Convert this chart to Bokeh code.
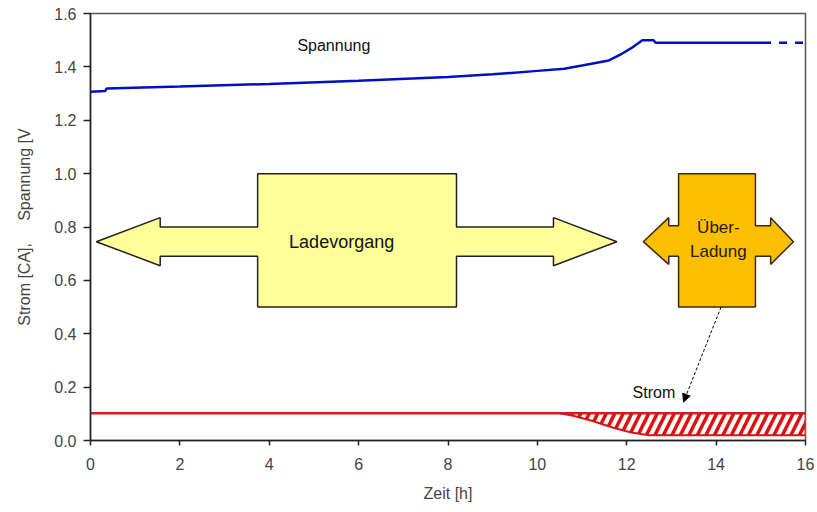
from bokeh.plotting import figure
from bokeh.models import FixedTicker, NumeralTickFormatter, Arrow, NormalHead
from bokeh.embed import file_html
from bokeh.resources import INLINE
from bokeh.core.properties import value

# ---- data ----
spannung_t = [0, 0.33, 0.36, 2, 4, 6, 8, 9, 10, 10.6, 11, 11.6, 11.9, 12.1, 12.35, 12.6, 12.65, 15.05]
spannung_v = [1.307, 1.31, 1.319, 1.326, 1.336, 1.348, 1.362, 1.372, 1.385, 1.393, 1.405, 1.424, 1.45, 1.47, 1.50, 1.50, 1.49, 1.49]
spannung_dash_t = [15.05, 15.95]
spannung_dash_v = [1.49, 1.49]

strom_t = [0, 16]
strom_v = [0.102, 0.102]
strom_low_t = [10.5, 10.8, 11.2, 11.7, 12.1, 12.5, 16]
strom_low_v = [0.102, 0.093, 0.075, 0.048, 0.030, 0.020, 0.020]

x_ticks = [0, 2, 4, 6, 8, 10, 12, 14, 16]
y_ticks = [0.0, 0.2, 0.4, 0.6, 0.8, 1.0, 1.2, 1.4, 1.6]

# annotation shapes (data coordinates)
lade_x = [0.13, 1.56, 1.56, 3.74, 3.74, 8.19, 8.19, 10.36, 10.36, 11.78, 10.36, 10.36, 8.19, 8.19, 3.74, 3.74, 1.56, 1.56]
lade_y = [0.745, 0.835, 0.80, 0.80, 1.0, 1.0, 0.80, 0.80, 0.835, 0.745, 0.655, 0.69, 0.69, 0.50, 0.50, 0.69, 0.69, 0.655]
ueber_x = [12.37, 12.94, 12.94, 13.16, 13.16, 14.88, 14.88, 15.22, 15.22, 15.73, 15.22, 15.22, 14.88, 14.88, 13.16, 13.16, 12.94, 12.94]
ueber_y = [0.745, 0.835, 0.805, 0.805, 1.0, 1.0, 0.805, 0.805, 0.835, 0.745, 0.66, 0.69, 0.69, 0.50, 0.50, 0.69, 0.69, 0.66]

FONT = "Liberation Sans"
NB = "\u00a0"

p = figure(width=817, height=512, x_range=(0, 16), y_range=(0, 1.6),
           output_backend="svg", toolbar_location=None,
           min_border_left=90, min_border_right=12, min_border_top=13, min_border_bottom=72)
p.grid.visible = False
p.background_fill_color = "white"
p.border_fill_color = "white"
p.outline_line_color = "#555555"
p.outline_line_width = 1.5

# axes
p.xaxis.ticker = FixedTicker(ticks=x_ticks)
p.yaxis.ticker = FixedTicker(ticks=y_ticks)
p.yaxis.formatter = NumeralTickFormatter(format="0.0")
for ax in (p.xaxis[0], p.yaxis[0]):
    ax.axis_line_color = "#222222"
    ax.axis_line_width = 1.5
    ax.major_tick_line_color = "#222222"
    ax.major_tick_line_width = 1.5
    ax.major_tick_in = 0
    ax.minor_tick_line_color = None
    ax.major_label_text_font = FONT
    ax.major_label_text_font_size = "16px"
    ax.major_label_text_color = "#444444"
    ax.axis_label_text_font = FONT
    ax.axis_label_text_font_size = "16px"
    ax.axis_label_text_font_style = "normal"
    ax.axis_label_text_color = "#444444"
p.yaxis.major_tick_out = 7
p.yaxis.major_label_standoff = 7
p.xaxis.major_tick_out = 5
p.xaxis.major_label_standoff = 12
p.yaxis.axis_label = "Strom [CA]," + NB * 5 + "Spannung [V"
p.yaxis.axis_label_standoff = 18
p.xaxis.axis_label = "Zeit [h]"
p.xaxis.axis_label_standoff = 12

# hatched overcharge area
p.varea(x=strom_low_t, y1=strom_low_v, y2=[strom_v[0]] * len(strom_low_t),
        fill_color="white", fill_alpha=1.0,
        hatch_pattern="/", hatch_color="#E01010", hatch_weight=3.5, hatch_scale=17)
p.line(strom_low_t, strom_low_v, line_color="#D01818", line_width=2)
p.line([16, 16], [strom_low_v[-1], strom_v[-1]], line_color="#D01818", line_width=2)
p.line(strom_t, strom_v, line_color="#C82020", line_width=2.5)

# voltage
p.line(spannung_t, spannung_v, line_color="#0010C0", line_width=2.5)
p.line(spannung_dash_t, spannung_dash_v, line_color="#0010C0", line_width=2.5, line_dash="8 8")

# arrows
p.patch(lade_x, lade_y, fill_color="#FFFF99", line_color="#222222", line_width=1.5)
p.patch(ueber_x, ueber_y, fill_color="#FBBF00", line_color="#3A2A10", line_width=1.5)

p.add_layout(Arrow(end=NormalHead(size=8, fill_color="black", line_color="black"),
                   x_start=14.11, y_start=0.5, x_end=13.27, y_end=0.144,
                   line_color="black", line_width=1, line_dash="3 2"))

# labels
p.text(x=[4.63], y=[1.48], text=["Spannung"], text_font=value(FONT), text_font_size="16px",
       text_align="left", text_baseline="middle", text_color="#111111")
p.text(x=[12.13], y=[0.18], text=["Strom"], text_font=value(FONT), text_font_size="16px",
       text_align="left", text_baseline="middle", text_color="#111111")
p.text(x=[5.62], y=[0.742], text=["Ladevorgang"], text_font=value(FONT), text_font_size="18px",
       text_align="center", text_baseline="middle", text_color="#111111")
p.text(x=[14.05, 14.05], y=[0.798, 0.71], text=["Über-", "Ladung"], text_font=value(FONT),
       text_font_size="17px", text_align="center", text_baseline="middle", text_color="#2A1A00")

open("out.html", "w").write(file_html(p, INLINE))
